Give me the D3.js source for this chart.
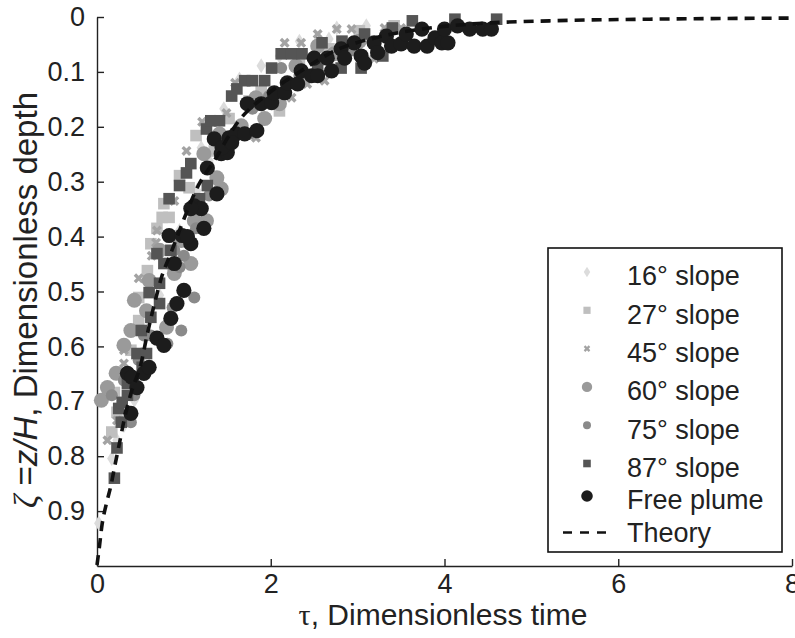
<!DOCTYPE html>
<html>
<head>
<meta charset="utf-8">
<title>Filling box front</title>
<script src="https://d3js.org/d3.v7.min.js"></script>
<style>
  body { margin: 0; background: #fff; font-family: "Liberation Sans", Arial, sans-serif; }
  .axis path, .axis line { stroke: #222; stroke-width: 1.4; }
  .axis text { font-family: "Liberation Sans", Arial, sans-serif; font-size: 27px; fill: #222; }
  .title { font-size: 30px; fill: #222; }
  .ytitle { font-size: 33px; fill: #222; }
  .legend-label { font-size: 27px; fill: #222; }
</style>
</head>
<body>
<svg id="chart" width="795" height="638"></svg>
<script>
// tick values and labels
const xTicks = [0, 2, 4, 6, 8];
const yTicks = [0, 0.1, 0.2, 0.3, 0.4, 0.5, 0.6, 0.7, 0.8, 0.9];
const yTickLabels = ["0", "0.1", "0.2", "0.3", "0.4", "0.5", "0.6", "0.7", "0.8", "0.9"];

// [tau, zeta]
const slope16 = [[0.02,0.922],[0.17,0.804],[0.23,0.771],[0.31,0.744],[0.43,0.698],[0.60,0.553],[0.72,0.507],
  [0.83,0.453],[0.95,0.389],[1.15,0.316],[1.20,0.238],[1.29,0.262],[1.46,0.167],[1.64,0.113],[1.89,0.089],
  [2.10,0.071],[2.33,0.044],[2.67,0.040],[2.76,0.020],[3.10,0.016]];
const slope27 = [[0.17,0.756],[0.23,0.720],[0.20,0.684],[0.31,0.653],[0.39,0.607],[0.48,0.553],[0.48,0.511],
  [0.58,0.462],[0.62,0.413],[0.69,0.385],[0.75,0.365],[0.83,0.365],[0.77,0.340],[0.95,0.289],[1.06,0.311],
  [1.14,0.216],[1.35,0.244],[1.52,0.185],[1.75,0.153],[1.89,0.135],[2.10,0.171],[2.33,0.080],[2.67,0.058],
  [3.02,0.025],[3.42,0.016]];
const slope45 = [[0.12,0.771],[0.23,0.735],[0.31,0.631],[0.31,0.607],[0.48,0.476],[0.63,0.435],[0.68,0.411],
  [0.69,0.389],[0.89,0.335],[1.03,0.244],[1.21,0.191],[1.49,0.175],[1.59,0.120],[1.83,0.220],[2.16,0.047],
  [2.24,0.147],[2.35,0.047],[2.42,0.122],[2.54,0.031],[2.62,0.116],[2.76,0.022],[2.93,0.022],[3.19,0.076],
  [3.31,0.020],[3.50,0.020]];
const slope60 = [[0.05,0.698],[0.12,0.675],[0.22,0.649],[0.31,0.598],[0.39,0.571],[0.57,0.535],[0.43,0.516],
  [0.80,0.565],[0.60,0.480],[0.89,0.467],[1.08,0.449],[0.72,0.425],[0.97,0.407],[1.12,0.371],[1.26,0.371],
  [1.38,0.293],[1.43,0.313],[1.23,0.249],[1.41,0.213],[1.66,0.198],[1.93,0.185],[2.10,0.158],[1.83,0.147],
  [2.29,0.089],[2.73,0.067],[2.54,0.053],[3.02,0.044]];
const slope75 = [[0.17,0.689],[0.31,0.662],[0.43,0.689],[0.39,0.738],[0.48,0.625],[0.54,0.580],[0.62,0.580],
  [0.81,0.595],[0.87,0.529],[0.97,0.571],[1.12,0.511],[0.95,0.456],[0.89,0.425],[1.00,0.435],[1.14,0.385],
  [1.29,0.325],[1.55,0.231],[1.75,0.213],[1.79,0.167],[1.98,0.144],[2.12,0.093],[2.33,0.107],[2.56,0.080],
  [2.91,0.062]];
const slope87 = [[0.20,0.840],[0.23,0.785],[0.28,0.738],[0.25,0.713],[0.29,0.702],[0.35,0.689],[0.35,0.667],
  [0.52,0.638],[0.46,0.613],[0.57,0.613],[0.51,0.571],[0.62,0.547],[0.72,0.522],[0.60,0.502],[0.72,0.485],
  [0.77,0.449],[0.69,0.431],[0.85,0.425],[0.83,0.331],[0.95,0.307],[1.03,0.284],[1.08,0.267],[1.18,0.331],
  [1.27,0.307],[1.26,0.204],[1.31,0.189],[1.41,0.189],[1.55,0.144],[1.61,0.131],[1.70,0.116],[1.79,0.116],
  [1.93,0.116],[2.01,0.093],[2.12,0.067],[2.24,0.067],[2.36,0.067],[2.54,0.089],[2.59,0.047],[2.81,0.093],
  [2.82,0.044],[3.04,0.093],[3.08,0.031],[3.29,0.071],[3.40,0.020],[3.63,0.007],[4.12,0.004],[4.60,0.004]];
const freePlume = [[0.35,0.649],[0.40,0.656],[0.54,0.649],[0.46,0.675],[0.39,0.722],[0.60,0.638],[0.69,0.585],
  [0.77,0.598],[0.85,0.549],[0.92,0.522],[1.00,0.498],[0.89,0.449],[1.08,0.413],[0.83,0.398],[0.98,0.398],
  [1.04,0.400],[1.23,0.385],[1.12,0.344],[1.20,0.349],[1.08,0.349],[1.38,0.322],[1.27,0.275],[1.43,0.249],
  [1.50,0.247],[1.35,0.222],[1.52,0.220],[1.60,0.213],[1.70,0.213],[1.44,0.238],[1.55,0.229],[1.84,0.207],
  [1.73,0.158],[1.89,0.158],[2.01,0.156],[2.04,0.138],[2.16,0.138],[2.19,0.120],[2.31,0.122],[2.35,0.098],
  [2.47,0.107],[2.54,0.107],[2.50,0.075],[2.65,0.075],[2.70,0.098],[2.81,0.058],[2.85,0.075],[2.96,0.047],
  [3.04,0.071],[3.08,0.084],[3.19,0.047],[3.23,0.065],[3.33,0.035],[3.39,0.053],[3.50,0.049],[3.56,0.031],
  [3.65,0.053],[3.74,0.022],[3.80,0.053],[3.89,0.038],[3.97,0.047],[4.04,0.047],[4.00,0.022],[4.15,0.016],
  [4.29,0.022],[4.44,0.022],[4.54,0.022]];
const theory = [[0,0.998],[0.023,0.971],[0.058,0.925],[0.104,0.889],[0.161,0.853],[0.207,0.816],[0.254,0.780],
  [0.311,0.735],[0.392,0.685],[0.507,0.631],[0.576,0.580],[0.657,0.525],[0.749,0.471],[0.853,0.429],
  [1.003,0.367],[1.153,0.311],[1.349,0.262],[1.614,0.193],[1.983,0.138],[2.352,0.098],[2.732,0.062],
  [3.251,0.036],[3.827,0.020],[4.288,0.013],[5.210,0.007],[6.363,0.004],[8.0,0.002]];

const legendLabels = ["16\u00b0 slope", "27\u00b0 slope", "45\u00b0 slope", "60\u00b0 slope",
  "75\u00b0 slope", "87\u00b0 slope", "Free plume", "Theory"];

// marker styling per series (plot size, legend size)
const series = [
  { data: slope16, shape: "diamond", color: "#dcdcdc", size: 7.5, lsize: 5.2 },
  { data: slope27, shape: "square", color: "#bfbfbf", size: 5.8, lsize: 3.6 },
  { data: slope45, shape: "cross", color: "#a3a3a3", size: 3.8, lsize: 2.5 },
  { data: slope60, shape: "circle", color: "#9a9a9a", size: 7.5, lsize: 5.2 },
  { data: slope75, shape: "circle", color: "#8a8a8a", size: 6, lsize: 4 },
  { data: slope87, shape: "square", color: "#555555", size: 5.8, lsize: 3.8 },
  { data: freePlume, shape: "circle", color: "#1c1c1c", size: 7.6, lsize: 5.8 }
];

const svg = d3.select("#chart");
const x = d3.scaleLinear().domain([0, 8]).range([97, 792]);
const y = d3.scaleLinear().domain([0, 1]).range([17, 566]);

function shapePath(shape, r) {
  if (shape === "circle") return d3.symbol(d3.symbolCircle, Math.PI * r * r)();
  if (shape === "square") return d3.symbol(d3.symbolSquare, 4 * r * r)();
  if (shape === "diamond") return `M0,${-r}L${r * 0.62},0L0,${r}L${-r * 0.62},0Z`;
  return `M${-r},${-r}L${r},${r}M${-r},${r}L${r},${-r}`;
}

function drawMarker(g, s, r) {
  const p = g.append("path").attr("d", shapePath(s.shape, r));
  if (s.shape === "cross") {
    p.attr("fill", "none").attr("stroke", s.color).attr("stroke-width", r * 0.9);
  } else {
    p.attr("fill", s.color);
  }
}

// axes
svg.append("g")
  .attr("class", "axis")
  .attr("transform", "translate(0,566)")
  .call(d3.axisBottom(x).tickValues(xTicks).tickFormat(d3.format("d"))
    .tickSizeInner(-7).tickSizeOuter(0).tickPadding(8));

svg.append("g")
  .attr("class", "axis")
  .attr("transform", "translate(97,0)")
  .call(d3.axisLeft(y).tickValues(yTicks).tickFormat((d, i) => yTickLabels[i])
    .tickSizeInner(-7).tickSizeOuter(0).tickPadding(12));

// scatter series
series.forEach(s => {
  const g = svg.append("g");
  s.data.forEach(d => {
    const m = g.append("g").attr("transform", `translate(${x(d[0])},${y(d[1])})`);
    drawMarker(m, s, s.size);
  });
});

// theory curve
svg.append("path")
  .datum(theory)
  .attr("fill", "none")
  .attr("stroke", "#111")
  .attr("stroke-width", 3.6)
  .attr("stroke-dasharray", "10,7")
  .attr("d", d3.line().x(d => x(d[0])).y(d => y(d[1])).curve(d3.curveMonotoneX));

// axis titles
const xt = svg.append("text").attr("class", "title")
  .attr("x", 443).attr("y", 625).attr("text-anchor", "middle");
xt.append("tspan").attr("font-family", "Liberation Serif, serif").text("\u03c4");
xt.append("tspan").text(", Dimensionless time");

const yt = svg.append("text").attr("class", "ytitle")
  .attr("transform", "translate(37,300) rotate(-90)").attr("text-anchor", "middle");
yt.append("tspan").attr("font-family", "Liberation Serif, serif").attr("font-style", "italic").text("\u03b6");
yt.append("tspan").text(" =");
yt.append("tspan").attr("font-style", "italic").text("z/H");
yt.append("tspan").text(", Dimensionless depth");

// legend
const legend = svg.append("g");
legend.append("rect")
  .attr("x", 548).attr("y", 248).attr("width", 234).attr("height", 304)
  .attr("fill", "#fff").attr("stroke", "#111").attr("stroke-width", 1.6);

const rowY = legendLabels.map((d, i) => i < 6 ? 276 + i * 38.3 : 467.5 + (i - 5) * 32.5);

legendLabels.forEach((label, i) => {
  const row = legend.append("g").attr("transform", `translate(0,${rowY[i]})`);
  if (i < series.length) {
    const m = row.append("g").attr("transform", "translate(587,-4)");
    drawMarker(m, series[i], series[i].lsize);
  } else {
    row.append("line").attr("x1", 563).attr("x2", 612).attr("y1", 0).attr("y2", 0)
      .attr("stroke", "#111").attr("stroke-width", 2.6).attr("stroke-dasharray", "9,8");
  }
  row.append("text").attr("class", "legend-label")
    .attr("x", 627).attr("y", 0).attr("dy", "0.35em").text(label);
});
</script>
</body>
</html>
